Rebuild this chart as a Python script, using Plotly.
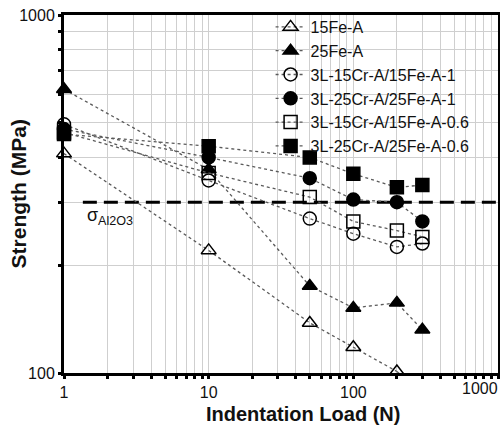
import math
import plotly.graph_objects as go

# ---- data ----
loads = [1, 10, 50, 100, 200, 300]
series_names = [
    "15Fe-A",
    "25Fe-A",
    "3L-15Cr-A/15Fe-A-1",
    "3L-25Cr-A/25Fe-A-1",
    "3L-15Cr-A/15Fe-A-0.6",
    "3L-25Cr-A/25Fe-A-0.6",
]
s_15Fe = [410, 220, 138, 118, 101, 88]
s_25Fe = [620, 370, 175, 152, 157, 132]
s_15Cr_1 = [495, 345, 270, 245, 225, 230]
s_25Cr_1 = [480, 400, 350, 305, 300, 265]
s_15Cr_06 = [470, 362, 310, 265, 250, 240]
s_25Cr_06 = [465, 430, 400, 360, 330, 335]
series_values = [s_15Fe, s_25Fe, s_15Cr_1, s_25Cr_1, s_15Cr_06, s_25Cr_06]
symbols = ["triangle-up-open", "triangle-up", "circle-open", "circle",
           "square-open", "square"]

sigma_al2o3 = 300
sigma_x = [1.35, 1000]

x_range = [1, 1000]
y_range = [100, 1000]
x_major = [1, 10, 100, 1000]
x_major_labels = ["1", "10", "100", "1000"]
y_major = [100, 1000]
y_major_labels = ["100", "1000"]


def all_ticks(lo, hi):
    vals = []
    d = lo
    while d < hi:
        for m in range(1, 10):
            vals.append(m * d)
        d *= 10
    vals.append(hi)
    return vals


xt = all_ticks(*x_range)
yt = all_ticks(*y_range)
xtext = [x_major_labels[x_major.index(v)] if (v in x_major and v != 1000) else "" for v in xt]
ytext = [y_major_labels[y_major.index(v)] if v in y_major else "" for v in yt]

fig = go.Figure()

# sigma Al2O3 reference line
fig.add_trace(go.Scatter(
    x=sigma_x, y=[sigma_al2o3, sigma_al2o3], mode="lines",
    line=dict(color="black", width=3, dash="14px,7px"),
    showlegend=False, hoverinfo="skip"))

for name, vals, sym in zip(series_names, series_values, symbols):
    xin = [x for x, v in zip(loads, vals) if v >= y_range[0]]
    vin = [v for v in vals if v >= y_range[0]]
    fig.add_trace(go.Scatter(
        x=xin, y=vin, name=name, mode="lines+markers",
        line=dict(color="#5a5a5a", width=1.3, dash="dot"),
        marker=dict(symbol=sym, size=13, color="black",
                    line=dict(color="black", width=1.5)),
        cliponaxis=False))
    if len(vin) < len(vals):
        k = len(vin) - 1
        fig.add_trace(go.Scatter(
            x=loads[k:], y=vals[k:], mode="lines", showlegend=False,
            line=dict(color="#5a5a5a", width=1.3, dash="dot"),
            hoverinfo="skip"))

axis_common = dict(
    type="log", showline=True, linecolor="black", linewidth=3, mirror=True,
    ticks="outside", ticklen=3, tickwidth=3, tickcolor="black",
    showgrid=True, gridcolor="#cfcfcf", gridwidth=1, zeroline=False,
    automargin=False,
    tickfont=dict(family="Liberation Sans, Arial, sans-serif", size=16, color="#111"),
)

fig.update_xaxes(range=[math.log10(x_range[0]), math.log10(x_range[1])],
                 tickmode="array", tickvals=xt, ticktext=xtext, **axis_common)
fig.update_yaxes(range=[math.log10(y_range[0]), math.log10(y_range[1])],
                 tickmode="array", tickvals=yt, ticktext=ytext, **axis_common)

fig.update_layout(
    width=500, height=441,
    margin=dict(l=64, r=2, t=15, b=68),
    paper_bgcolor="white", plot_bgcolor="white",
    font=dict(family="Liberation Sans, Arial, sans-serif", color="#111"),
    showlegend=True,
    legend=dict(x=0.476, y=1.014, xanchor="left", yanchor="top",
                bgcolor="rgba(0,0,0,0)", borderwidth=0,
                font=dict(size=16, color="#111")),
    annotations=[
        dict(text=x_major_labels[-1], xref="paper", yref="paper",
             x=1.005, y=0, xanchor="right", yanchor="top", yshift=-5,
             showarrow=False, font=dict(size=16, color="#111")),
        dict(text="<b>Indentation Load (N)</b>", xref="paper", yref="paper",
             x=(303 - 64) / 434, y=-0.078, xanchor="center", yanchor="top",
             showarrow=False, font=dict(size=20, color="#111")),
        dict(text="<b>Strength (MPa)</b>", xref="paper", yref="paper",
             x=-0.105, y=0.5, xanchor="center", yanchor="middle", textangle=-90,
             showarrow=False, font=dict(size=21, color="#111")),
        dict(text="σ<sub>Al2O3</sub>", xref="x", yref="y",
             x=math.log10(1.4), y=math.log10(sigma_al2o3), xanchor="left",
             yanchor="top", yshift=-1, showarrow=False,
             font=dict(size=18, color="#111")),
    ],
)

fig.write_html("out.html", config={"displayModeBar": False},
               post_script="document.body.style.margin='0';document.body.style.padding='0';")
